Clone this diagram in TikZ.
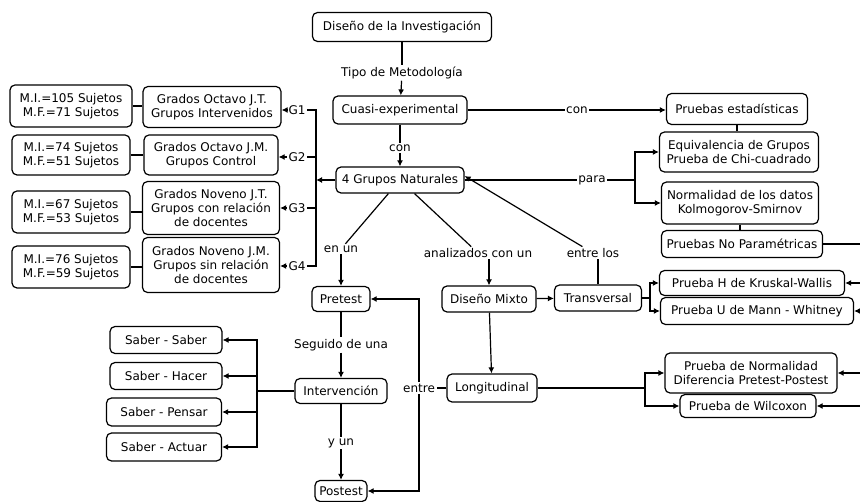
\documentclass[tikz,border=0pt]{standalone}
\usepackage{fontspec}
\setmainfont{DejaVu Sans}
\usepackage{tikz}
\usetikzlibrary{
    arrows.meta,
    positioning
}
\tikzstyle{concept} = [
    rectangle, draw,
    rounded corners=5pt,
    line width=1.2pt,
    fill=white,
    text centered,
    align=center,
    inner sep=2pt,
    minimum height=26,
    font=\fontsize{12}{14}\selectfont
]
\tikzstyle{phrase} = [
    fill=white,
    inner sep=1.5pt,
    font=\fontsize{12}{14}\selectfont
]
\tikzstyle{link} = [
    line width=1.2pt
]
\tikzstyle{arrow} = [
    line width=1.2pt,
    -{Latex[length=6pt,width=6pt]}
]

\begin{document}
\begin{tikzpicture}[x=1pt, y=-1pt]
\useasboundingbox (0,0) rectangle (860,502);

% Kopf
\node (diseno) [concept, minimum width=179, minimum height=29] at (402,27)
    {Diseño de la Investigación};
\node (tipo) [phrase] at (402,73) {Tipo de Metodología};
\node (cuasi) [concept, minimum width=134, minimum height=28] at (400,110)
    {Cuasi-experimental};
\node (con1) [phrase] at (577,110) {con};
\node (con2) [phrase] at (400,148) {con};
\node (grupos) [concept, minimum width=128] at (400,180)
    {4 Grupos Naturales};

% Pruebas estadisticas
\node (estad) [concept, minimum width=141, minimum height=31] at (737,109)
    {Pruebas estadísticas};
\node (equiv) [concept, minimum width=159, minimum height=40] at (739,152)
    {Equivalencia de Grupos\\Prueba de Chi-cuadrado};
\node (normal) [concept, minimum width=157, minimum height=42] at (740,203)
    {Normalidad de los datos\\Kolmogorov-Smirnov};
\node (noparam) [concept, minimum width=161, minimum height=27] at (742,244)
    {Pruebas No Paramétricas};
\node (para) [phrase] at (592,180) {para};
\coordinate (pbranch) at (635,180);

% Grupos
\node (oct1) [concept, minimum width=138, minimum height=41] at (212,107)
    {Grados Octavo J.T.\\Grupos Intervenidos};
\node (oct2) [concept, minimum width=134, minimum height=40] at (211,155)
    {Grados Octavo J.M.\\Grupos Control};
\node (nov1) [concept, minimum width=137, minimum height=53] at (211,208)
    {Grados Noveno J.T.\\Grupos con relación\\de docentes};
\node (nov2) [concept, minimum width=137, minimum height=55] at (211,265)
    {Grados Noveno J.M.\\Grupos sin relación\\de docentes};
\node (suj1) [concept, minimum width=122, minimum height=42] at (71,106)
    {M.I.=105 Sujetos\\M.F.=71 Sujetos};
\node (suj2) [concept, minimum width=118, minimum height=40] at (71,155)
    {M.I.=74 Sujetos\\M.F.=51 Sujetos};
\node (suj3) [concept, minimum width=118, minimum height=42] at (71,212)
    {M.I.=67 Sujetos\\M.F.=53 Sujetos};
\node (suj4) [concept, minimum width=118, minimum height=42] at (71,267)
    {M.I.=76 Sujetos\\M.F.=59 Sujetos};
\node (g1) [phrase] at (297,110) {G1};
\node (g2) [phrase] at (297,157) {G2};
\node (g3) [phrase] at (297,208) {G3};
\node (g4) [phrase] at (297,266) {G4};
\coordinate (gbus) at (316,180);

% Diseno
\node (enun) [phrase] at (341,249) {en un};
\node (analiz) [phrase] at (478,253) {analizados con un};
\node (entrelos) [phrase] at (593,253) {entre los};
\node (pretest) [concept, minimum width=58, minimum height=25] at (341,299)
    {Pretest};
\node (mixto) [concept, minimum width=94] at (489,299) {Diseño Mixto};
\node (transv) [concept, minimum width=87] at (598,298) {Transversal};
\node (kruskal) [concept, minimum width=185, minimum height=25] at (752,283)
    {Prueba H de Kruskal-Wallis};
\node (mann) [concept, minimum width=193, minimum height=27] at (757,311)
    {Prueba U de Mann - Whitney};
\coordinate (tbranch) at (650,298);
\node (longit) [concept, minimum width=90, minimum height=28] at (492,388)
    {Longitudinal};
\node (pnormal) [concept, minimum width=172, minimum height=40] at (751,373)
    {Prueba de Normalidad\\Diferencia Pretest-Postest};
\node (wilcox) [concept, minimum width=136, minimum height=23] at (748,406)
    {Prueba de Wilcoxon};
\coordinate (lbranch) at (645,388);
\coordinate (rbus) at (863,406);
\node (entre) [phrase] at (419,388) {entre};

% Intervencion
\node (seguido) [phrase] at (341,345) {Seguido de una};
\node (interv) [concept, minimum width=92, minimum height=25] at (341,391)
    {Intervención};
\node (yun) [phrase] at (341,443) {y un};
\node (postest) [concept, minimum width=52, minimum height=21] at (341,491)
    {Postest};
\node (ss) [concept, minimum width=112, minimum height=27] at (166,340)
    {Saber - Saber};
\node (sh) [concept, minimum width=112, minimum height=27] at (166,376)
    {Saber - Hacer};
\node (sp) [concept, minimum width=115, minimum height=28] at (164,412)
    {Saber - Pensar};
\node (sa) [concept, minimum width=115, minimum height=28] at (164,447)
    {Saber - Actuar};
\coordinate (sbus) at (257,391);

\draw [link] (diseno) -- (tipo);
\draw [arrow] (tipo) -- (cuasi);
\draw [link] (cuasi) -- (con1);
\draw [arrow] (con1) -- (con1 -| estad.west);
\draw [link] (cuasi) -- (con2);
\draw [arrow] (con2) -- (grupos);

\draw [link] (estad.south) -- (estad.south |- equiv.north);
\draw [link] (normal.south) -- (normal.south |- noparam.north);
\draw [link] (grupos) -- (para);
\draw [link] (para) -- (pbranch);
\draw [arrow] (pbranch) |- (equiv.west);
\draw [arrow] (pbranch) |- (normal.west);

\draw [arrow] (grupos) -- (gbus);
\draw [link] (g1.east) -| (gbus) |- (g4.east);
\draw [link] (g2.east) -- (g2.east -| gbus);
\draw [link] (g3.east) -- (g3.east -| gbus);
\draw [arrow] (g1.west) -- (g1.west -| oct1.east);
\draw [arrow] (g2.west) -- (g2.west -| oct2.east);
\draw [arrow] (g3.west) -- (g3.west -| nov1.east);
\draw [arrow] (g4.west) -- (g4.west -| nov2.east);
\draw [link] (suj1.east) -- (suj1.east -| oct1.west);
\draw [link] (suj2.east) -- (suj2.east -| oct2.west);
\draw [link] (suj3.east) -- (suj3.east -| nov1.west);
\draw [link] (suj4.east) -- (suj4.east -| nov2.west);

\draw [link] (grupos) -- (enun);
\draw [arrow] (enun) -- (pretest);
\draw [link] (grupos) -- (analiz);
\draw [arrow] (analiz.south -| mixto.north) -- (mixto.north);
\draw [link] (transv.north) -- (transv.north |- entrelos.south);
\draw [arrow] (entrelos) -- ([yshift=4]grupos.east);
\draw [arrow] (mixto) -- (transv);
\draw [link] (transv) -- (tbranch);
\draw [arrow] (tbranch) |- (kruskal.west);
\draw [arrow] (tbranch) |- (mann.west);
\draw [arrow] (mixto) -- (longit);
\draw [link] (longit) -- (lbranch);
\draw [arrow] (lbranch) |- (pnormal.west);
\draw [arrow] (lbranch) |- (wilcox.west);

% Ruecklauf rechts
\draw [link] (noparam.east) -| (rbus);
\draw [arrow] (kruskal.east -| rbus) -- (kruskal.east);
\draw [arrow] (mann.east -| rbus) -- (mann.east);
\draw [arrow] (pnormal.east -| rbus) -- (pnormal.east);
\draw [arrow] (rbus) -- (wilcox.east);

\draw [link] (longit) -- (entre);
\draw [arrow] (entre) |- (pretest.east);
\draw [arrow] (entre) |- (postest.east);

\draw [link] (pretest) -- (seguido);
\draw [arrow] (seguido) -- (interv);
\draw [link] (interv) -- (yun);
\draw [arrow] (yun) -- (postest);
\draw [link] (interv) -- (sbus);
\draw [arrow] (sbus) |- (ss.east);
\draw [arrow] (sbus) |- (sh.east);
\draw [arrow] (sbus) |- (sp.east);
\draw [arrow] (sbus) |- (sa.east);

\end{tikzpicture}
\end{document}
